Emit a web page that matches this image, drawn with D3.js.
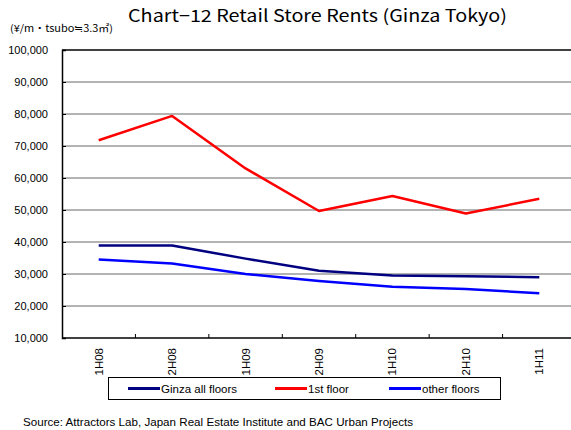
<!DOCTYPE html>
<html>
<head>
<meta charset="utf-8">
<script src="https://cdn.jsdelivr.net/npm/d3@7"></script>
<style>
	body { margin: 0; background: #fff; }
	svg { display: block; font-family: "Liberation Sans", Arial, sans-serif; }
</style>
</head>
<body>
<div id="chart"></div>
<script>
// Data
var periods = ["1H08", "2H08", "1H09", "2H09", "1H10", "2H10", "1H11"];
var ginzaAll = [38900, 38900, 34800, 31000, 29500, 29300, 29000];
var firstFloor = [71800, 79400, 63000, 49700, 54400, 48900, 53500];
var otherFloors = [34500, 33300, 30000, 27800, 26000, 25300, 24000];
var yTicks = [10000, 20000, 30000, 40000, 50000, 60000, 70000, 80000, 90000, 100000];

var seriesNames = ["Ginza all floors", "1st floor", "other floors"];
var seriesColors = ["#000080", "#ff0000", "#0000ff"];
var seriesValues = [ginzaAll, firstFloor, otherFloors];

var width = 571, height = 430;
var plot = {left: 62, right: 576, top: 50, bottom: 338};

var svg = d3.select("#chart")
	.append("svg")
		.attr("width", width)
		.attr("height", height);

// Scales
var x = d3.scaleBand().domain(periods).range([plot.left, plot.right]);
var y = d3.scaleLinear().domain([10000, 100000]).range([plot.bottom, plot.top]);

// Title and unit
svg.append("text")
	.attr("x", 128).attr("y", 22)
	.attr("font-family", "'Noto Sans CJK JP', sans-serif")
	.attr("font-size", 17)
	.attr("textLength", 379).attr("lengthAdjust", "spacingAndGlyphs")
	.text("Chart\u221212 Retail Store Rents (Ginza Tokyo)");

svg.append("text")
	.attr("x", 10).attr("y", 32)
	.attr("font-family", "'Noto Sans CJK JP', sans-serif")
	.attr("font-size", 10)
	.attr("textLength", 103).attr("lengthAdjust", "spacingAndGlyphs")
	.text("(\u00a5/m\u30fbtsubo\u22523.3\u33a1)");

// Gridlines
svg.append("g")
	.selectAll("line")
	.data(yTicks.slice(1, -1))
	.enter().append("line")
		.attr("x1", plot.left).attr("x2", plot.right)
		.attr("y1", function(d) { return y(d); })
		.attr("y2", function(d) { return y(d); })
		.attr("stroke", "#9a9a9a")
		.attr("stroke-width", 1.5);

// Top border
svg.append("line")
	.attr("x1", plot.left).attr("x2", plot.right)
	.attr("y1", plot.top).attr("y2", plot.top)
	.attr("stroke", "#000").attr("stroke-width", 1.5);

// Y axis
var yAxis = d3.axisLeft(y)
	.tickValues(yTicks)
	.tickSize(-4)
	.tickPadding(14)
	.tickFormat(d3.format(","));

var yg = svg.append("g")
	.attr("transform", "translate(" + plot.left + ",0)")
	.call(yAxis);
yg.select(".domain").attr("stroke", "#000").attr("stroke-width", 1.5);
yg.selectAll("text").attr("font-size", 11).attr("fill", "#000")
	.attr("font-family", "'Liberation Sans', Arial, sans-serif");

// X axis: ticks at band boundaries, labels rotated
var xg = svg.append("g")
	.attr("transform", "translate(0," + plot.bottom + ")");
xg.append("line")
	.attr("x1", plot.left).attr("x2", plot.right)
	.attr("stroke", "#000").attr("stroke-width", 1.5);
xg.selectAll("line.tick")
	.data(periods.slice(1))
	.enter().append("line")
		.attr("class", "tick")
		.attr("x1", function(d) { return x(d); })
		.attr("x2", function(d) { return x(d); })
		.attr("y1", 0).attr("y2", -4)
		.attr("stroke", "#000");
xg.selectAll("text")
	.data(periods)
	.enter().append("text")
		.attr("transform", function(d) {
			return "translate(" + (x(d) + x.bandwidth() / 2 + 4) + ",10) rotate(-90)";
		})
		.attr("text-anchor", "end")
		.attr("font-size", 11.5)
		.text(function(d) { return d; });

// Lines
var line = d3.line()
	.x(function(d, i) { return x(periods[i]) + x.bandwidth() / 2; })
	.y(function(d) { return y(d); });

svg.append("g")
	.selectAll("path")
	.data(seriesValues)
	.enter().append("path")
		.attr("d", function(d) { return line(d); })
		.attr("fill", "none")
		.attr("stroke", function(d, i) { return seriesColors[i]; })
		.attr("stroke-width", 2.5)
		.attr("stroke-linejoin", "round");

// Legend
var legend = svg.append("g");
legend.append("rect")
	.attr("x", 108.5).attr("y", 377.5)
	.attr("width", 392).attr("height", 22)
	.attr("fill", "#fff").attr("stroke", "#000").attr("stroke-width", 1);

var legendX = [128, 275, 389];
var items = legend.selectAll("g.item")
	.data(seriesNames)
	.enter().append("g")
		.attr("class", "item")
		.attr("transform", function(d, i) { return "translate(" + legendX[i] + ",388.5)"; });
items.append("line")
	.attr("x1", 0).attr("x2", 32)
	.attr("stroke", function(d, i) { return seriesColors[i]; })
	.attr("stroke-width", 3);
items.append("text")
	.attr("x", 33).attr("y", 4)
	.attr("font-size", 11.5)
	.text(function(d) { return d; });

// Source
svg.append("text")
	.attr("x", 23).attr("y", 426)
	.attr("font-size", 11.5)
	.attr("textLength", 390).attr("lengthAdjust", "spacingAndGlyphs")
	.text("Source: Attractors Lab, Japan Real Estate Institute and BAC Urban Projects");
</script>
</body>
</html>
